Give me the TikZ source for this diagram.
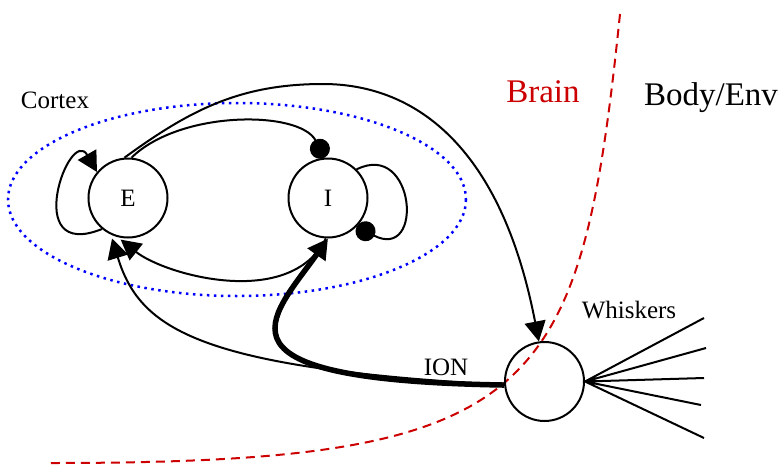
\documentclass[tikz,border=0pt]{standalone}
\usepackage{fontspec}
\setmainfont{Liberation Serif}
\usetikzlibrary{arrows.meta}
\definecolor{brainred}{RGB}{204,0,0}

\tikzset{
	neuron/.style={draw, circle, line width=2pt, minimum size=79pt, inner sep=0pt},
	exc/.style={line width=2pt, -{Triangle[length=20pt,width=21pt]}},
	inh/.style={line width=2pt, -{Circle[length=20pt]}},
}

\begin{document}
\begin{tikzpicture}[x=1pt, y=-1pt, font=\fontsize{25}{30}\selectfont]
		\useasboundingbox (0,0) rectangle (782,464);
		% brain / body border
		\draw[brainred, line width=2pt, dash pattern=on 9pt off 6pt] (620,14) .. controls (580,400) and (540,463) .. (50,463);
		\node[brainred, anchor=base, font=\fontsize{33}{40}\selectfont] (brain) at (543,102) {Brain};
		\node[anchor=base, font=\fontsize{33}{40}\selectfont] (env) at (711,105) {Body/Env};
		% cortex
		\draw[blue, line width=2.5pt, dash pattern=on 2.5pt off 4.5pt] (237,199.5) ellipse [x radius=229, y radius=96.5];
		\node[anchor=base] (cortexlabel) at (55,108) {Cortex};
		\node[neuron] (E) at (128,198) {E};
		\node[neuron] (I) at (328,198) {I};
		% ion + whiskers
		\node[neuron] (ION) at (544.5,381.5) {};
		\node[anchor=base] (ionlabel) at (446,375) {ION};
		\node[anchor=base] (whiskerlabel) at (629,318) {Whiskers};
		\coordinate (w1) at (704,318);
		\coordinate (w2) at (706,348);
		\coordinate (w3) at (704,378);
		\coordinate (w4) at (701,405);
		\coordinate (w5) at (704,438);
		\draw[line width=2pt] (ION.east) -- (w1) (ION.east) -- (w2) (ION.east) -- (w3)
			(ION.east) -- (w4) (ION.east) -- (w5);
		% recurrent loops
		\draw[exc] (E.-130) .. controls (20,262) and (70,125) .. (E.140);
		\draw[inh] (I.45) .. controls (415,140) and (425,262) .. (I.-45);
		% E <-> I
		\draw[inh] (E.85) .. controls (180,110) and (300,110) .. (I.95);
		\draw[exc, shorten >=4pt] (I.-93) .. controls (290,310) and (165,275) .. (E.-105);
		% E -> ION
		\draw[exc] (E.95) .. controls (190,110) and (240,84) .. (323,84)
			.. controls (410,84) and (500,140) .. (ION.98);
		% ION -> E, ION -> I
		\draw[exc, shorten >=4pt] (ION.185) .. controls (200,368) and (140,330) .. (E.-115);
		\draw[exc, line width=5.5pt] (ION.185) .. controls (200,380) and (270,320) .. (I.-90);
	\end{tikzpicture}
\end{document}
